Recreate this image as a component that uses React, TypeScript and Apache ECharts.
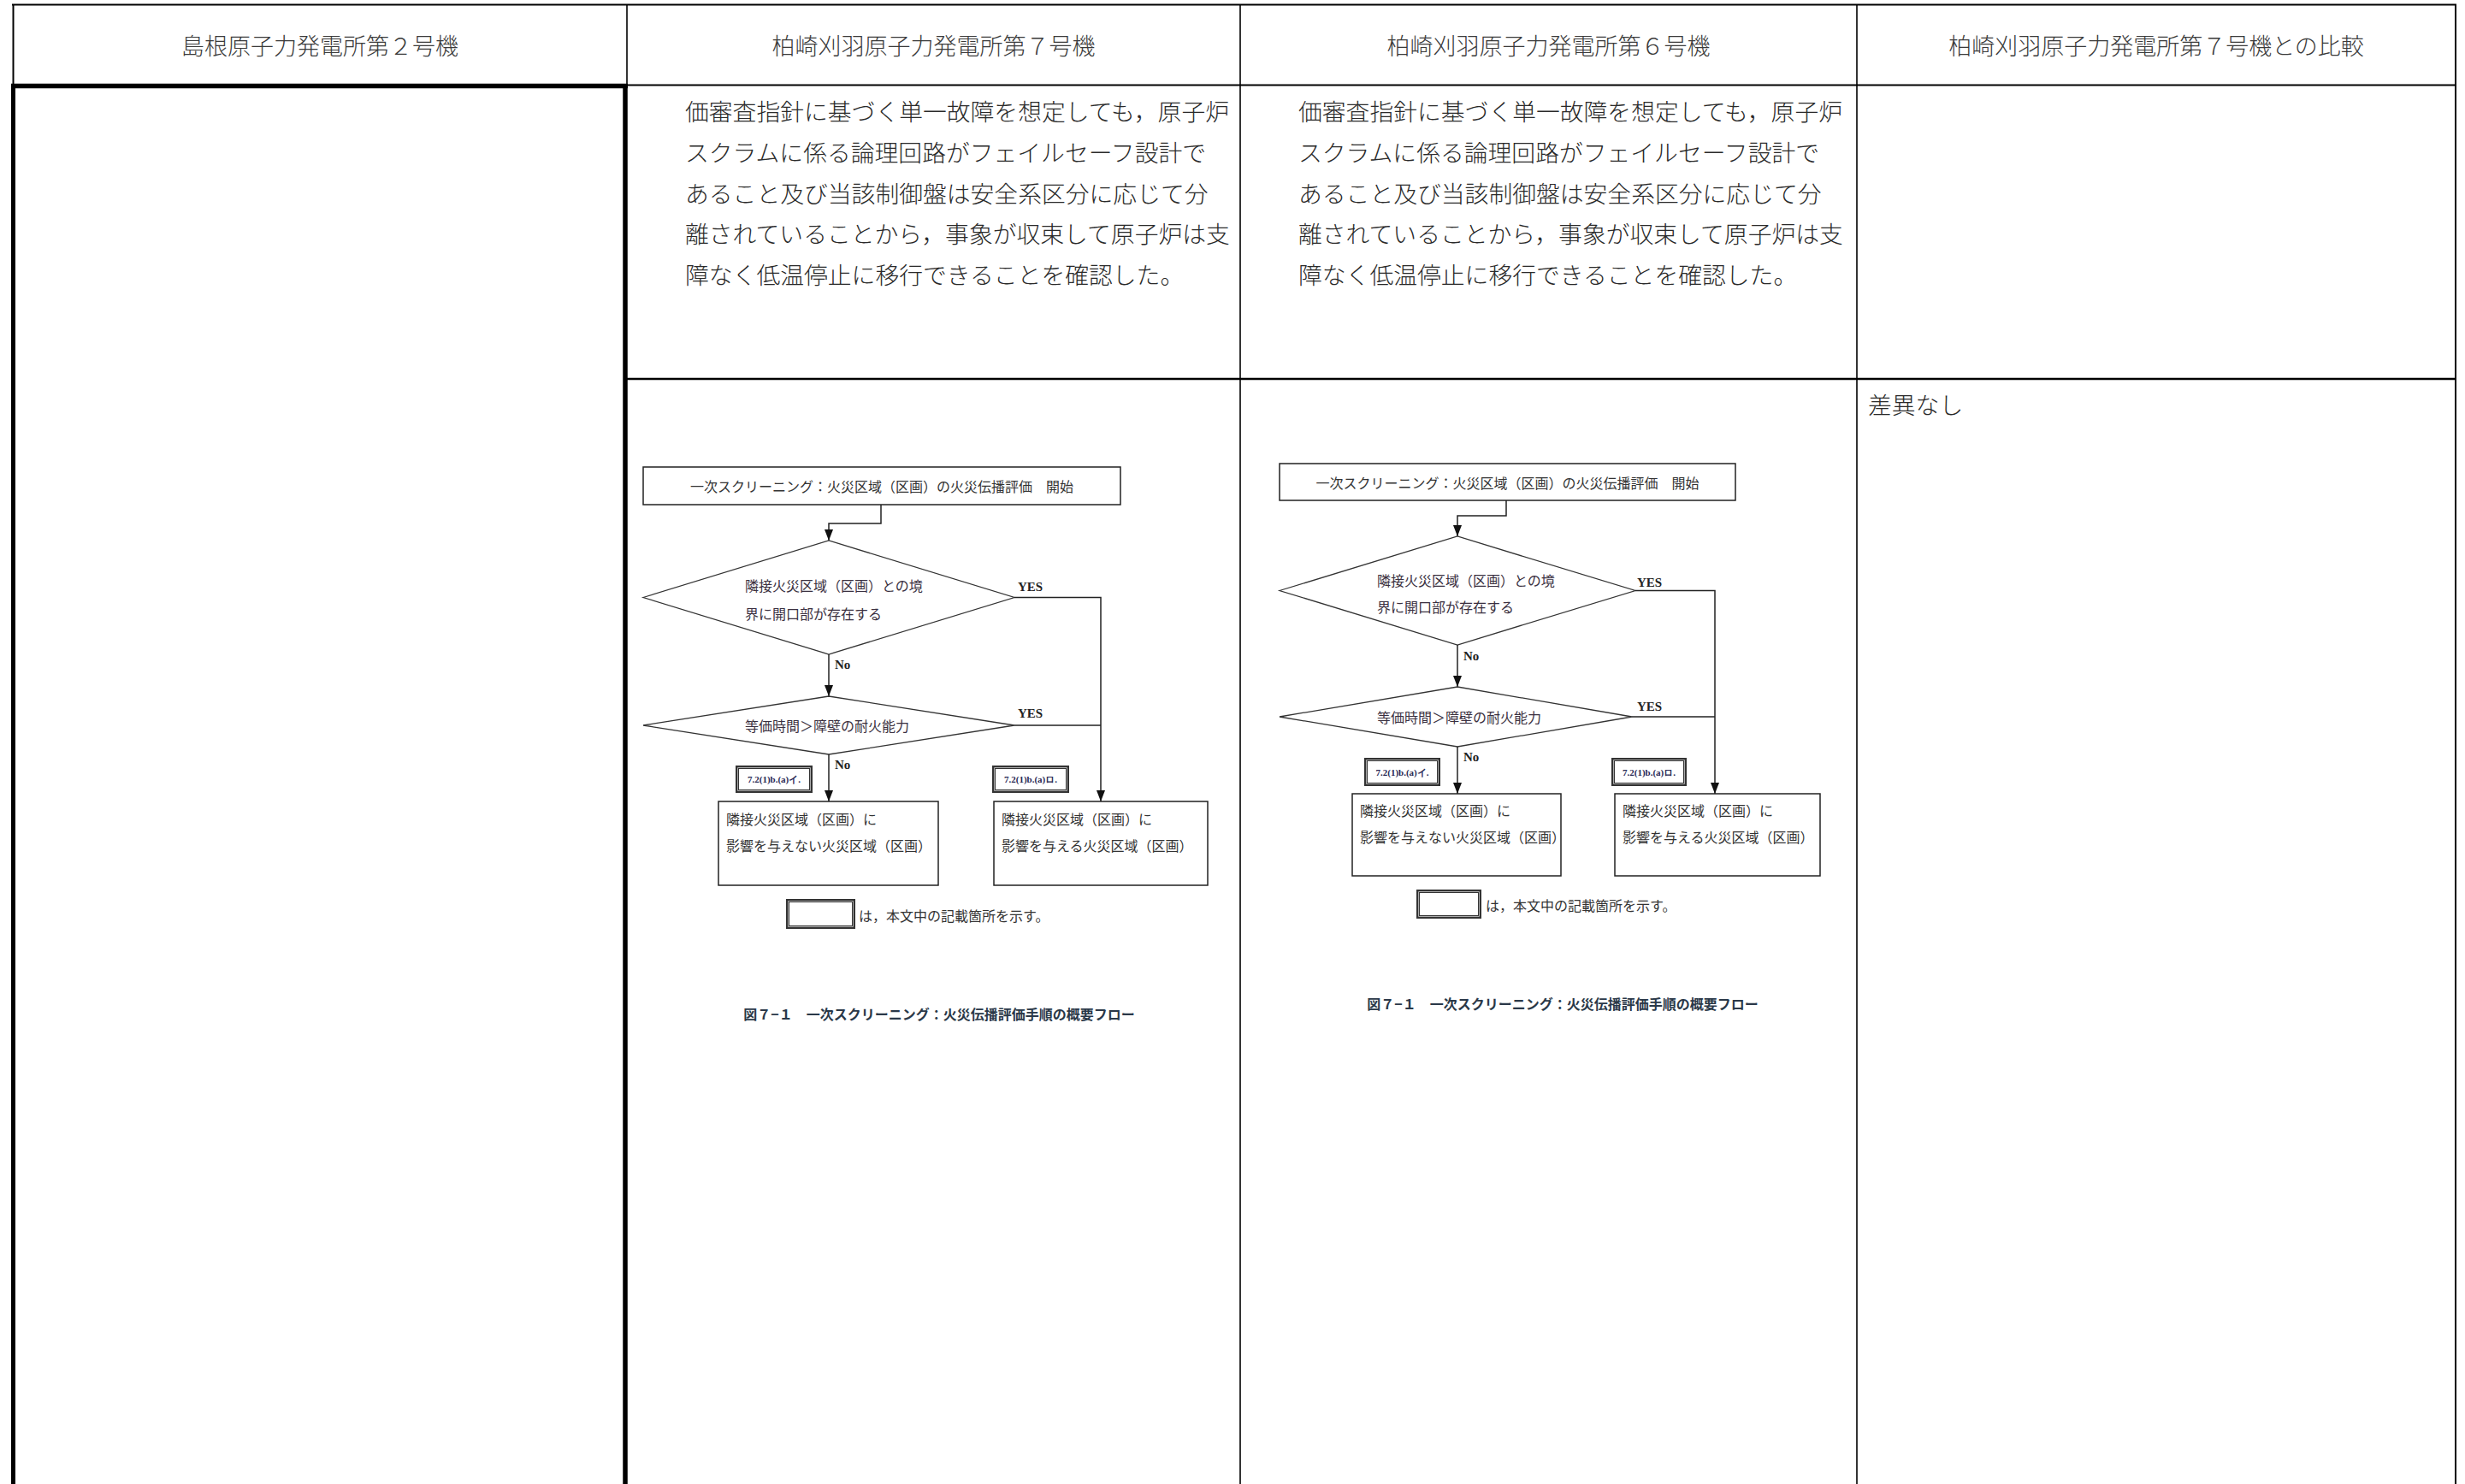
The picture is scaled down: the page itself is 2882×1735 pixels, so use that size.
import React, { useEffect, useRef } from "react";
import * as echarts from "echarts";

const headers = [
  "島根原子力発電所第２号機",
  "柏崎刈羽原子力発電所第７号機",
  "柏崎刈羽原子力発電所第６号機",
  "柏崎刈羽原子力発電所第７号機との比較",
];
const bodyLines = [
  "価審査指針に基づく単一故障を想定しても，原子炉",
  "スクラムに係る論理回路がフェイルセーフ設計で",
  "あること及び当該制御盤は安全系区分に応じて分",
  "離されていることから，事象が収束して原子炉は支",
  "障なく低温停止に移行できることを確認した。",
];
const diffText = "差異なし";
const flowTitle = "一次スクリーニング：火災区域（区画）の火災伝播評価　開始";
const d1Lines = ["隣接火災区域（区画）との境", "界に開口部が存在する"];
const d2Text = "等価時間＞障壁の耐火能力";
const leftBoxLines = ["隣接火災区域（区画）に", "影響を与えない火災区域（区画）"];
const rightBoxLines = ["隣接火災区域（区画）に", "影響を与える火災区域（区画）"];
const labelA = "7.2(1)b.(a)イ.";
const labelB = "7.2(1)b.(a)ロ.";
const legendText = "は，本文中の記載箇所を示す。";
const caption = "図７−１　一次スクリーニング：火災伝播評価手順の概要フロー";
const yesLabel = "YES";
const noLabel = "No";

const JP = "'Noto Sans CJK JP', 'Noto Sans', sans-serif";
const INK = "#2a2a2a";
const FL = "#333";

type Layout = {
  top: { x: number; y: number; w: number; h: number };
  conn: number[][];
  cx: number;
  d1: { l: number; r: number; t: number; b: number };
  d1TextX: number;
  d1TextY: number[];
  yes1: number[];
  no1: number[];
  d2: { l: number; r: number; t: number; b: number };
  d2TextX: number;
  yes2: number[];
  no2: number[];
  rx: number;
  boxTop: number;
  labA: number[];
  labB: number[];
  lbox: number[];
  rbox: number[];
  boxTextY: number[];
  legend: number[];
  legendTextX: number;
  cap: number[];
};

const L2: Layout = {
  top: { x: 752, y: 546, w: 558, h: 44 },
  conn: [[1030, 590], [1030, 612], [969, 612], [969, 632]],
  cx: 969,
  d1: { l: 752, r: 1186, t: 632, b: 765 },
  d1TextX: 871,
  d1TextY: [684, 717],
  yes1: [1190, 686],
  no1: [976, 777],
  d2: { l: 752, r: 1186, t: 814, b: 882 },
  d2TextX: 871,
  yes2: [1190, 834],
  no2: [976, 894],
  rx: 1287,
  boxTop: 937,
  labA: [862, 897, 86, 28],
  labB: [1162, 897, 86, 28],
  lbox: [840, 937, 257, 98],
  rbox: [1162, 937, 250, 98],
  boxTextY: [957, 988],
  legend: [921, 1053, 77, 31],
  legendTextX: 1004,
  cap: [1098, 1185],
};

const L3: Layout = {
  top: { x: 1496, y: 542, w: 533, h: 43 },
  conn: [[1761, 585], [1761, 603], [1704, 603], [1704, 627]],
  cx: 1704,
  d1: { l: 1496, r: 1912, t: 627, b: 754 },
  d1TextX: 1610,
  d1TextY: [678, 709],
  yes1: [1914, 681],
  no1: [1711, 767],
  d2: { l: 1496, r: 1908, t: 803, b: 873 },
  d2TextX: 1610,
  yes2: [1914, 826],
  no2: [1711, 885],
  rx: 2005,
  boxTop: 928,
  labA: [1597, 888, 85, 29],
  labB: [1886, 888, 84, 29],
  lbox: [1581, 928, 244, 96],
  rbox: [1888, 928, 240, 96],
  boxTextY: [947, 978],
  legend: [1658, 1042, 72, 30],
  legendTextX: 1737,
  cap: [1827, 1173],
};

function ln(x1: number, y1: number, x2: number, y2: number, w: number, c = "#000") {
  return { type: "line", shape: { x1, y1, x2, y2 }, style: { stroke: c, lineWidth: w }, silent: true };
}
function txt(text: string, x: number, y: number, size: number, align = "left", fill = INK, family = JP, weight: any = "normal") {
  return {
    type: "text",
    x,
    y,
    style: { text, fontSize: size, fontFamily: family, fontWeight: weight, fill, textAlign: align, textVerticalAlign: "middle" },
    silent: true,
  };
}
function arrowDown(x: number, y: number) {
  return {
    type: "polygon",
    shape: { points: [[x - 5, y - 13], [x + 5, y - 13], [x, y]] },
    style: { fill: "#111" },
    silent: true,
  };
}
function rect(x: number, y: number, w: number, h: number, lw: number, c = "#222") {
  return { type: "rect", shape: { x, y, width: w, height: h }, style: { fill: "none", stroke: c, lineWidth: lw }, silent: true };
}
function dblRect(r: number[]) {
  const [x, y, w, h] = r;
  return [
    { type: "rect", shape: { x, y, width: w, height: h }, style: { fill: "#fff", stroke: "#333", lineWidth: 4 }, silent: true },
    rect(x + 0.5, y + 0.5, w - 1, h - 1, 1, "#aaa"),
  ];
}

function flow(L: Layout) {
  const els: any[] = [];
  const { top, d1, d2, cx } = L;
  els.push(rect(top.x, top.y, top.w, top.h, 1.5));
  els.push(txt(flowTitle, top.x + top.w / 2, top.y + top.h / 2, 16, "center", FL));
  els.push({ type: "polyline", shape: { points: L.conn }, style: { stroke: "#222", lineWidth: 1.5, fill: "none" }, silent: true });
  els.push(arrowDown(cx, d1.t));
  const d1c = (d1.t + d1.b) / 2;
  els.push({
    type: "polygon",
    shape: { points: [[d1.l, d1c], [cx, d1.t], [d1.r, d1c], [cx, d1.b]] },
    style: { fill: "none", stroke: "#333", lineWidth: 1.3 },
    silent: true,
  });
  d1Lines.forEach((t, i) => els.push(txt(t, L.d1TextX, L.d1TextY[i], 16, "left", "#3a3040")));
  els.push(txt(yesLabel, L.yes1[0], L.yes1[1], 15, "left", "#222", "'Liberation Serif', serif", "bold"));
  els.push({ type: "polyline", shape: { points: [[d1.r, d1c], [L.rx, d1c], [L.rx, L.boxTop]] }, style: { stroke: "#222", lineWidth: 1.5, fill: "none" }, silent: true });
  els.push(arrowDown(L.rx, L.boxTop));
  els.push(txt(noLabel, L.no1[0], L.no1[1], 15, "left", "#222", "'Liberation Serif', serif", "bold"));
  els.push(ln(cx, d1.b, cx, d2.t, 1.5, "#222"));
  els.push(arrowDown(cx, d2.t));
  const d2c = (d2.t + d2.b) / 2;
  els.push({
    type: "polygon",
    shape: { points: [[d2.l, d2c], [cx, d2.t], [d2.r, d2c], [cx, d2.b]] },
    style: { fill: "none", stroke: "#333", lineWidth: 1.3 },
    silent: true,
  });
  els.push(txt(d2Text, L.d2TextX, d2c, 16, "left", "#3a3040"));
  els.push(txt(yesLabel, L.yes2[0], L.yes2[1], 15, "left", "#222", "'Liberation Serif', serif", "bold"));
  els.push(ln(d2.r, d2c, L.rx, d2c, 1.5, "#222"));
  els.push(txt(noLabel, L.no2[0], L.no2[1], 15, "left", "#222", "'Liberation Serif', serif", "bold"));
  els.push(ln(cx, d2.b, cx, L.boxTop, 1.5, "#222"));
  els.push(arrowDown(cx, L.boxTop));
  els.push(...dblRect(L.labA));
  els.push(txt(labelA, L.labA[0] + L.labA[2] / 2, L.labA[1] + L.labA[3] / 2, 11, "center", "#2a2a55", "'Liberation Serif', serif", "bold"));
  els.push(...dblRect(L.labB));
  els.push(txt(labelB, L.labB[0] + L.labB[2] / 2, L.labB[1] + L.labB[3] / 2, 11, "center", "#2a2a55", "'Liberation Serif', serif", "bold"));
  els.push(rect(L.lbox[0], L.lbox[1], L.lbox[2], L.lbox[3], 1.5));
  leftBoxLines.forEach((t, i) => els.push(txt(t, L.lbox[0] + 9, L.boxTextY[i], 16, "left", FL)));
  els.push(rect(L.rbox[0], L.rbox[1], L.rbox[2], L.rbox[3], 1.5));
  rightBoxLines.forEach((t, i) => els.push(txt(t, L.rbox[0] + 9, L.boxTextY[i], 16, "left", FL)));
  els.push(...dblRect(L.legend));
  els.push(txt(legendText, L.legendTextX, L.legend[1] + L.legend[3] / 2 + 1, 16, "left", FL));
  els.push(txt(caption, L.cap[0], L.cap[1], 16, "center", "#2a3848", JP, "bold"));
  return els;
}

export default function App() {
  const ref = useRef<HTMLDivElement>(null);
  useEffect(() => {
    if (!ref.current) return;
    const chart = echarts.init(ref.current, undefined, { renderer: "svg" });
    const colX = [15, 733, 1450, 2171, 2871];
    const els: any[] = [];
    // table frame
    els.push(ln(14, 5.5, 2872, 5.5, 2));
    els.push(ln(15.5, 5, 15.5, 100, 2));
    els.push(ln(2871, 5, 2871, 1735, 2));
    els.push(ln(733, 5, 733, 100, 1.6));
    els.push(ln(1450, 5, 1450, 1735, 1.6));
    els.push(ln(2171, 5, 2171, 1735, 1.6));
    els.push(ln(733, 99.5, 2871, 99.5, 2));
    els.push(ln(733, 443, 2871, 443, 2.5));
    // thick left-column frame
    els.push(ln(13, 100.5, 734, 100.5, 5.5));
    els.push(ln(15.5, 98, 15.5, 1735, 5));
    els.push(ln(731, 98, 731, 1735, 5.5));
    // headers
    headers.forEach((h, i) => {
      els.push(txt(h, (colX[i] + colX[i + 1]) / 2, 52, 27, "center", "#3a3a3a", JP, 300));
    });
    // body texts
    bodyLines.forEach((t, i) => {
      els.push(txt(t, 801, 129 + i * 47.8, 27.8, "left", INK, JP, 300));
      els.push(txt(t, 1518, 129 + i * 47.8, 27.8, "left", INK, JP, 300));
    });
    els.push(txt(diffText, 2184, 472, 27.8, "left", INK, JP, 300));
    els.push(...flow(L2));
    els.push(...flow(L3));
    chart.setOption({ animation: false, backgroundColor: "#fff", graphic: { elements: els } });
    return () => chart.dispose();
  }, []);
  return <div ref={ref} style={{ position: "fixed", left: 0, top: 0, width: 2882, height: 1735, background: "#fff" }} />;
}
